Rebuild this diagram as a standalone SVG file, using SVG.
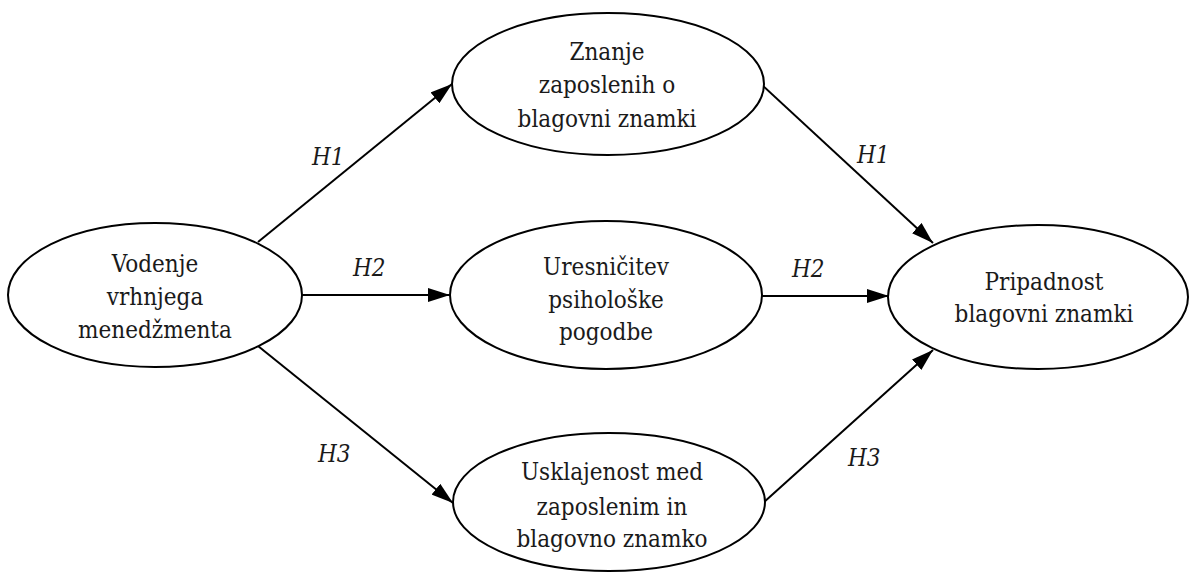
<svg xmlns="http://www.w3.org/2000/svg" width="1190" height="572" viewBox="0 0 1190 572">
  <style>
    .node ellipse { fill: #ffffff; stroke: #000000; stroke-width: 2; }
    .node text { font-family: "DejaVu Serif Condensed", "DejaVu Serif", serif; font-size: 24px; fill: #1a1a1a; text-anchor: middle; }
    .edge line { stroke: #000000; stroke-width: 2; marker-end: url(#arrow); }
    .label { font-family: "DejaVu Serif Condensed", "DejaVu Serif", serif; font-size: 24px; font-style: italic; fill: #1a1a1a; }
  </style>
  <defs>
    <marker id="arrow" markerUnits="userSpaceOnUse" markerWidth="22" markerHeight="14" refX="22" refY="7" orient="auto">
      <path d="M0,0 L22,7 L0,14 z" fill="#000000"/>
    </marker>
  </defs>
  <rect width="1190" height="572" fill="#ffffff"/>

  <!-- connectors -->
  <g id="connectors" class="edge">
    <line x1="258" y1="242" x2="452" y2="84"/>
    <line x1="302" y1="295" x2="450" y2="295"/>
    <line x1="258" y1="346" x2="453" y2="503"/>
    <line x1="762" y1="85" x2="933" y2="243"/>
    <line x1="762" y1="296" x2="889" y2="296"/>
    <line x1="763" y1="503" x2="933" y2="350"/>
  </g>

  <!-- hypothesis labels -->
  <g id="labels">
    <text class="label" x="312" y="165">H1</text>
    <text class="label" x="857" y="163">H1</text>
    <text class="label" x="353" y="276">H2</text>
    <text class="label" x="792" y="277">H2</text>
    <text class="label" x="318" y="462">H3</text>
    <text class="label" x="848" y="466">H3</text>
  </g>

  <g id="node-vodenje" class="node">
    <ellipse cx="155" cy="295" rx="147" ry="72"/>
    <text x="155" y="272">Vodenje</text>
    <text x="155" y="305">vrhnjega</text>
    <text x="155" y="338">menedžmenta</text>
  </g>

  <g id="node-znanje" class="node">
    <ellipse cx="608" cy="84" rx="156" ry="71"/>
    <text x="607" y="60">Znanje</text>
    <text x="607" y="93">zaposlenih o</text>
    <text x="607" y="127">blagovni znamki</text>
  </g>

  <g id="node-uresnicitev" class="node">
    <ellipse cx="606" cy="295" rx="156" ry="74"/>
    <text x="606" y="275">Uresničitev</text>
    <text x="606" y="308">psihološke</text>
    <text x="606" y="340">pogodbe</text>
  </g>

  <g id="node-usklajenost" class="node">
    <ellipse cx="609" cy="502" rx="156" ry="69"/>
    <text x="612" y="480">Usklajenost med</text>
    <text x="612" y="515">zaposlenim in</text>
    <text x="612" y="547">blagovno znamko</text>
  </g>

  <g id="node-pripadnost" class="node">
    <ellipse cx="1038" cy="297" rx="150" ry="72"/>
    <text x="1044" y="290">Pripadnost</text>
    <text x="1044" y="322">blagovni znamki</text>
  </g>
</svg>
